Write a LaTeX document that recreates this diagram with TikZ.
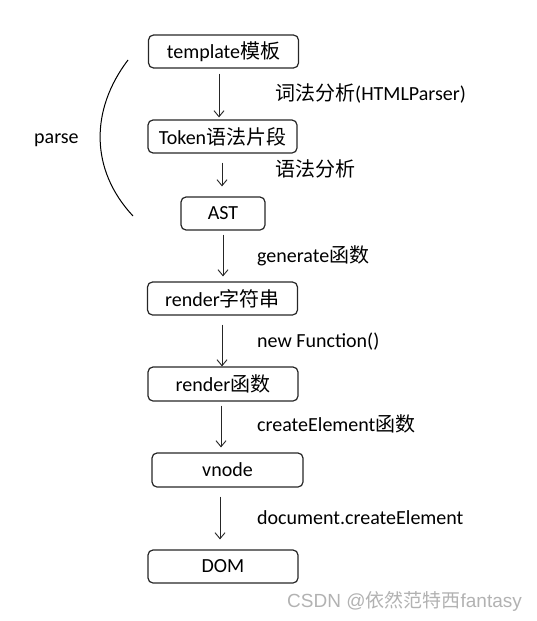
\documentclass[tikz,border=0pt]{standalone}
\usepackage{fontspec}
\setmainfont{Carlito}
\newfontfamily\cjk{Noto Sans CJK SC}
\newfontfamily\wmfont{Liberation Sans}
\usetikzlibrary{arrows.meta}
\begin{document}
\begin{tikzpicture}[x=1pt,y=-1pt,
  box/.style={draw=black!85,line width=1.2pt,rounded corners=5pt,minimum height=33pt,inner sep=0pt,
    font=\fontsize{20}{24}\selectfont},
  lbl/.style={anchor=west,inner sep=0pt,text height=14pt,text depth=4pt,font=\fontsize{20}{24}\selectfont},
  arr/.style={draw=black!85,line width=0.9pt,-{Straight Barb[length=6pt,width=10pt]}}]
\useasboundingbox (0,0) rectangle (537,621);
\node[box,minimum width=150pt] (t1) at (223.5,51.5) {template{\cjk 模板}};
\node[box,minimum width=149pt] (t2) at (222.5,136.5) {Token{\cjk 语法片段}};
\node[box,minimum width=84pt] (t3) at (223,213.5) {AST};
\node[box,minimum width=150pt] (t4) at (222.5,298.5) {render{\cjk 字符串}};
\node[box,minimum width=150pt,minimum height=34pt] (t5) at (223,384) {render{\cjk 函数}};
\node[box,minimum width=151pt,minimum height=34pt] (t6) at (227.5,470) {vnode};
\node[box,minimum width=150pt] (t7) at (223,566.5) {DOM};

\draw[arr] ([xshift=-4.5pt,yshift=-5pt]t1.south) -- ([xshift=-3.5pt,yshift=2pt]t2.north);
\draw[arr] ([xshift=-0.5pt,yshift=-9pt]t2.south) -- ([xshift=-1pt,yshift=10pt]t3.north);
\draw[arr] ([xshift=0pt,yshift=-4pt]t3.south) -- ([xshift=0.5pt,yshift=5pt]t4.north);
\draw[arr] ([xshift=-0.5pt,yshift=-9pt]t4.south) -- ([xshift=-1pt,yshift=0pt]t5.north);
\draw[arr] ([xshift=-2pt,yshift=-4pt]t5.south) -- ([xshift=-6.5pt,yshift=5pt]t6.north);
\draw[arr] ([xshift=-7.5pt,yshift=-9pt]t6.south) -- ([xshift=-3pt,yshift=10pt]t7.north);

\node[lbl] (l1) at (275,95) {{\cjk 词法分析}(HTMLParser)};
\node[lbl] (l2) at (275,171) {{\cjk 语法分析}};
\node[lbl] (l3) at (257,257) {generate{\cjk 函数}};
\node[lbl] (l4) at (257,342) {new Function()};
\node[lbl] (l5) at (257,426) {createElement{\cjk 函数}};
\node[lbl] (l6) at (257,519) {document.createElement};
\node[lbl] (l7) at (34,138) {parse};

\draw[line width=1pt] (128,60) .. controls (90,110) and (90,170) .. (133,216);

\node[anchor=west,inner sep=0pt,text=black!30,font=\fontsize{19}{22}\selectfont\wmfont] (wm) at (287,601) {CSDN @{\cjk 依然范特西}fantasy};
\end{tikzpicture}
\end{document}
